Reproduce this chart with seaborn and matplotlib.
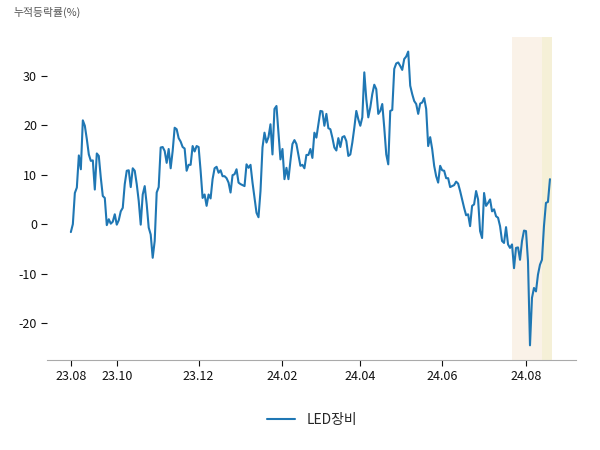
import matplotlib
matplotlib.use("Agg")
import matplotlib.pyplot as plt
import seaborn as sns
import numpy as np
import pandas as pd

series_name = "LED장비"
values = [
    -1.6, 0.0, 6.3, 7.4, 13.9, 11.1, 21.0, 19.9, 17.2, 14.1, 12.8, 12.9, 7.0, 14.3, 13.8, 9.4, 5.7, 5.3, -0.2, 1.0,
    0.1, 0.5, 2.0, -0.1, 0.8, 2.6, 3.3, 8.1, 10.8, 10.9, 7.5, 11.3, 10.8, 8.1, 4.7, -0.1, 6.0, 7.7, 4.0, -0.7,
    -2.1, -6.8, -3.4, 6.4, 7.5, 15.5, 15.6, 14.8, 12.4, 15.2, 11.3, 14.8, 19.5, 19.2, 17.4, 16.7, 15.6, 15.3, 10.8, 12.0,
    12.0, 15.8, 14.7, 15.8, 15.6, 10.8, 5.3, 6.0, 3.7, 6.0, 5.2, 9.1, 11.3, 11.6, 10.4, 10.9, 9.7, 9.7, 9.3, 8.4,
    6.4, 9.9, 10.1, 11.1, 8.4, 8.1, 7.9, 7.7, 12.1, 11.4, 12.0, 8.4, 5.3, 2.3, 1.4, 6.7, 15.5, 18.5, 16.5, 17.6,
    20.2, 14.1, 23.3, 23.9, 18.5, 13.1, 15.2, 9.1, 11.4, 9.1, 12.8, 16.2, 17.0, 16.2, 14.0, 11.8, 12.0, 11.3, 14.0, 14.0,
    15.2, 13.4, 18.5, 17.5, 20.2, 22.9, 22.8, 19.9, 22.3, 19.4, 19.2, 17.5, 15.5, 14.9, 17.4, 15.6, 17.6, 17.8, 16.8, 13.8,
    14.1, 16.5, 19.5, 22.9, 21.2, 19.9, 21.6, 30.7, 25.3, 21.6, 23.6, 26.3, 28.2, 27.3, 22.3, 22.9, 24.3, 19.5, 14.1, 12.1,
    22.9, 23.1, 31.4, 32.5, 32.7, 32.0, 31.2, 33.4, 33.9, 34.9, 28.0, 26.3, 24.9, 24.3, 22.3, 24.4, 24.6, 25.5, 23.3, 15.8,
    17.6, 15.2, 11.8, 9.7, 8.4, 11.8, 10.9, 10.8, 9.3, 9.3, 7.5, 7.7, 7.9, 8.6, 8.2, 6.7, 5.0, 3.3, 1.8, 2.0,
    -0.4, 3.7, 4.0, 6.7, 5.0, -1.4, -2.8, 6.3, 3.7, 4.3, 5.0, 2.6, 3.0, 1.6, 1.3, -0.4, -3.4, -3.8, -0.6, -4.1,
    -4.8, -4.1, -8.9, -4.8, -4.7, -7.2, -3.4, -1.3, -1.4, -7.5, -24.5, -14.9, -12.9, -13.6, -10.2, -8.2, -7.2, -0.4, 4.3, 4.5,
    9.1,
]
tick_labels = ["23.08", "23.10", "23.12", "24.02", "24.04", "24.06", "24.08"]
tick_index = [0, 23, 64, 106, 145, 186, 228]
highlight1 = (221, 236)
highlight2 = (236, 241)
y_ticks = [-20, -10, 0, 10, 20, 30]

df = pd.DataFrame({"idx": np.arange(len(values)), "value": values, "name": series_name})

sns.set_theme(style="white")
plt.rcParams["font.family"] = ["Noto Sans CJK KR", "DejaVu Sans"]
plt.rcParams["axes.unicode_minus"] = False

fig = plt.figure(figsize=(6, 4.5), dpi=100)
ax = fig.add_axes([0.078, 0.2, 0.882, 0.718])

ax.axvspan(*highlight1, color="#faf2e8", lw=0, zorder=0)
ax.axvspan(*highlight2, color="#f5f0d7", lw=0, zorder=0)

sns.lineplot(data=df, x="idx", y="value", hue="name", palette=["#1f77b4"], lw=1.5, ax=ax, legend=True)

ax.set_xticks(tick_index)
ax.set_xticklabels(tick_labels)
ax.set_yticks(y_ticks)
ax.set_yticklabels([str(v) for v in y_ticks])
ax.set_xlabel("")
ax.set_ylabel("")
ax.margins(x=0.05, y=0.05)

for s in ["left", "top", "right"]:
    ax.spines[s].set_visible(False)
ax.spines["bottom"].set_color("#aaaaaa")
ax.spines["bottom"].set_linewidth(0.8)
ax.tick_params(axis="both", which="major", labelsize=9, length=4, width=0.8,
               color="#111111", labelcolor="#111111", left=True, bottom=True, pad=3)

handles, labels = ax.get_legend_handles_labels()
ax.legend_.remove()
fig.legend(handles, labels, loc="center", bbox_to_anchor=(0.52, 0.066), frameon=False,
           fontsize=10, handlelength=2.0, handletextpad=0.8)

fig.text(0.022, 0.972, "누적등락률(%)", fontsize=7.8, color="#555555", ha="left", va="center")

fig.savefig("out.png", dpi=100)
